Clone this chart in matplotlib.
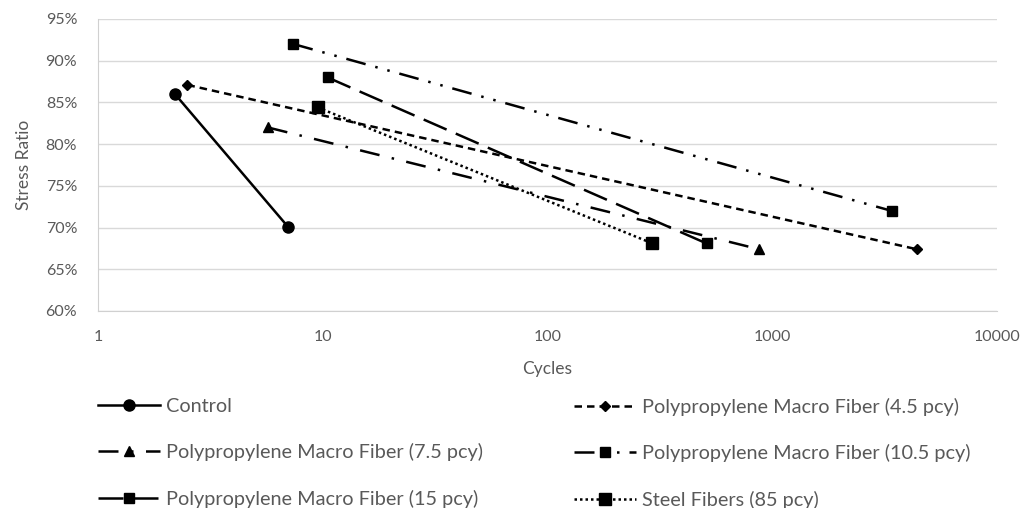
import matplotlib
matplotlib.use("Agg")
import matplotlib.pyplot as plt
from matplotlib.ticker import FuncFormatter, FixedLocator

plt.rcParams['font.family'] = ['Lato', 'DejaVu Sans']

labels = ["Control",
          "Polypropylene Macro Fiber (4.5 pcy)",
          "Polypropylene Macro Fiber (7.5 pcy)",
          "Polypropylene Macro Fiber (10.5 pcy)",
          "Polypropylene Macro Fiber (15 pcy)",
          "Steel Fibers (85 pcy)"]
control_x = [2.2, 7.0]
control_y = [86.0, 70.1]
pp45_x = [2.5, 4400]
pp45_y = [87.1, 67.4]
pp75_x = [5.7, 875]
pp75_y = [82.0, 67.4]
pp105_x = [7.4, 3400]
pp105_y = [92.0, 72.0]
pp15_x = [10.5, 510]
pp15_y = [88.0, 68.1]
steel_x = [9.5, 293]
steel_y = [84.4, 68.1]

series_x = [control_x, pp45_x, pp75_x, pp105_x, pp15_x, steel_x]
series_y = [control_y, pp45_y, pp75_y, pp105_y, pp15_y, steel_y]
markers = ['o', 'D', '^', 's', 's', 's']
msizes = [8, 5.5, 6.5, 6.5, 6.5, 8]
styles = ['-', (0, (3, 2)), (0, (8, 5, 1, 5)), (0, (8, 4, 1, 4, 1, 4)), (0, (10, 4)), (0, (1, 1.2))]

fig = plt.figure(figsize=(10.30, 5.08), dpi=100)
ax = fig.add_axes([98/1030, 1 - 311/508, (997-98)/1030, (311-19)/508])

handles = []
for x, y, m, ms, ls, lab in zip(series_x, series_y, markers, msizes, styles, labels):
    h, = ax.plot(x, y, color='black', linestyle=ls, linewidth=1.8, marker=m,
                 markersize=ms, label=lab)
    handles.append(h)

ax.set_xscale('log')
ax.set_xlim(1, 10000)
ax.set_ylim(60, 95)
ax.xaxis.set_major_locator(FixedLocator([1, 10, 100, 1000, 10000]))
ax.xaxis.set_minor_locator(FixedLocator([]))
ax.xaxis.set_major_formatter(FuncFormatter(lambda v, p: f"{int(v)}"))
ax.yaxis.set_major_locator(FixedLocator(list(range(60, 96, 5))))
ax.yaxis.set_major_formatter(FuncFormatter(lambda v, p: f"{int(v)}%"))
ax.grid(axis='y', color='#d9d9d9', linewidth=1)
ax.set_axisbelow(True)
for s in ['top', 'right']:
    ax.spines[s].set_visible(False)
for s in ['left', 'bottom']:
    ax.spines[s].set_color('#d0d0d0')
ax.tick_params(axis='y', length=0, labelsize=11.5, colors='#595959', pad=15)
ax.tick_params(axis='x', length=0, labelsize=11.5, colors='#595959', pad=14)
ax.set_xlabel("Cycles", fontsize=12.5, color='#595959', labelpad=12)
ax.set_ylabel("Stress Ratio", fontsize=12.5, color='#595959', labelpad=10)

common = dict(frameon=False, fontsize=14.3, labelcolor='#595959',
              handlelength=3.1, labelspacing=1.42, handletextpad=0.3,
              borderpad=0, borderaxespad=0, loc='upper left')
left_idx = [0, 2, 4]
right_idx = [1, 3, 5]
leg1 = fig.legend([handles[i] for i in left_idx], [labels[i] for i in left_idx],
                  bbox_to_anchor=(98/1030, 1 - 398/508), **common)
leg2 = fig.legend([handles[i] for i in right_idx], [labels[i] for i in right_idx],
                  bbox_to_anchor=(574/1030, 1 - 398/508), **common)

fig.savefig("out.png", dpi=100)
